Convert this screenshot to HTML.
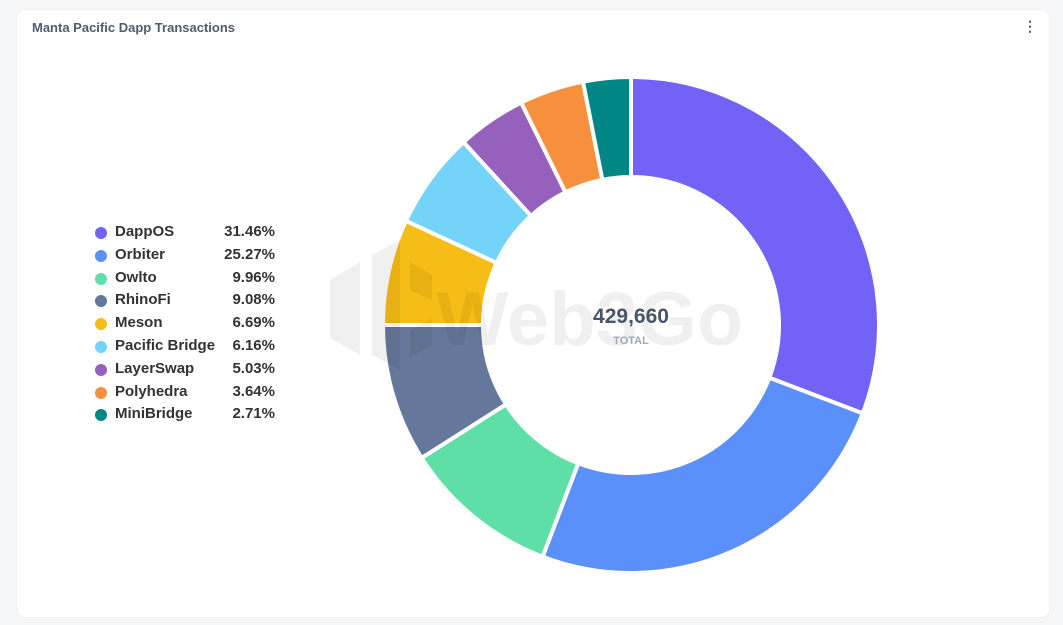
<!DOCTYPE html>
<html><head><meta charset="utf-8"><style>
body{margin:0;background:#f5f6f8;width:1063px;height:625px;overflow:hidden;font-family:"Liberation Sans",sans-serif}
.card{position:absolute;left:17px;top:10px;width:1032px;height:607px;background:#fff;border-radius:8px;box-shadow:0 0 2px rgba(0,0,0,.06)}
.title{position:absolute;left:15px;top:10px;font-size:13px;font-weight:bold;color:#515a6e}
.dots{position:absolute;right:12px;top:8px;color:#555;font-size:14px;font-weight:bold}
.leg{position:absolute;left:78px;font-size:15px;font-weight:bold;color:#333;width:180px;height:20px}
.leg i{position:absolute;left:0;top:4px;width:12px;height:12px;border-radius:50%}
.leg span{position:absolute;left:20px;top:0}
.leg b{position:absolute;right:0;top:0}
</style></head><body>
<div class="card">
<div class="title">Manta Pacific Dapp Transactions</div>
<div class="dots">⋮</div>
<div id="legend"></div>
</div>
<svg width="1063" height="625" style="position:absolute;left:0;top:0">
<g id="pie"></g>
<g fill="#000" fill-opacity="0.06">
<path d="M330 280 L360 262 L360 355 L330 338 Z M372 255 L400 240 L400 370 L372 355 Z M410 262 L432 275 L432 300 L410 290 Z M410 330 L432 318 L432 345 L410 358 Z"/>
<text x="590" y="345" font-size="76" font-weight="bold" text-anchor="middle" font-family="Liberation Sans">Web3Go</text>
</g>
<text x="631" y="323" font-size="21" font-weight="bold" fill="#4a5568" text-anchor="middle" font-family="Liberation Sans">429,660</text>
<text x="631" y="344" font-size="11" font-weight="bold" fill="#a0a8b8" text-anchor="middle" font-family="Liberation Sans">TOTAL</text>
</svg>
<script>
var d=[["DappOS",31.46,"#7362f6"],["Orbiter",25.27,"#5b8ff9"],["Owlto",9.96,"#5fdfa8"],["RhinoFi",9.08,"#65789b"],["Meson",6.69,"#f6bd16"],["Pacific Bridge",6.16,"#74d3f8"],["LayerSwap",5.03,"#9661bc"],["Polyhedra",3.64,"#f6903d"],["MiniBridge",2.71,"#008685"]];
var bd=[0,30.8,55.8,66.0,75.0,81.9,88.2,92.7,96.9,100];
var cx=631,cy=325,R=248,r=148,g="",L="";
function p(rad,t){return (cx+rad*Math.cos(t)).toFixed(2)+" "+(cy+rad*Math.sin(t)).toFixed(2)}
d.forEach(function(s,i){var a=-Math.PI/2+bd[i]/100*2*Math.PI,b=-Math.PI/2+bd[i+1]/100*2*Math.PI,lg=(b-a)>Math.PI?1:0;
g+='<path d="M'+p(R,a)+' A'+R+' '+R+' 0 '+lg+' 1 '+p(R,b)+' L'+p(r,b)+' A'+r+' '+r+' 0 '+lg+' 0 '+p(r,a)+' Z" fill="'+s[2]+'" stroke="#fff" stroke-width="4" stroke-linejoin="round"/>';
L+='<div class="leg" style="top:'+(213+i*22.8)+'px"><i style="background:'+s[2]+'"></i><span>'+s[0]+'</span><b>'+s[1].toFixed(2)+'%</b></div>';});
document.getElementById("pie").innerHTML=g;document.getElementById("legend").innerHTML=L;
</script>
</body></html>
